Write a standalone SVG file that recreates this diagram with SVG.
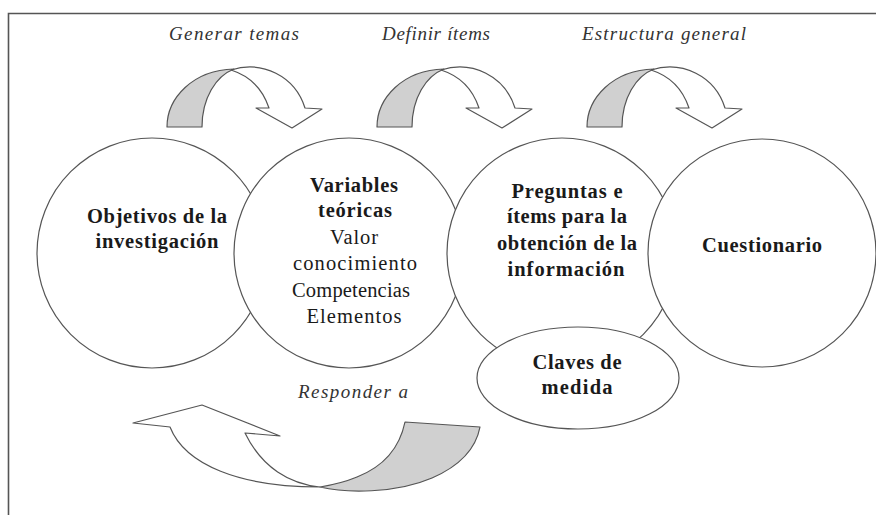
<svg xmlns="http://www.w3.org/2000/svg" width="876" height="515" viewBox="0 0 876 515">
<defs>
<style>
.node{fill:#fff;stroke:#555;stroke-width:1.2}
.b{font-family:"Liberation Serif","DejaVu Serif",serif;font-weight:bold;font-size:20.5px;fill:#1a1a1a;text-anchor:middle}
.r{font-family:"Liberation Serif","DejaVu Serif",serif;font-size:20.5px;fill:#1a1a1a;text-anchor:middle}
.lab{font-family:"Liberation Serif","DejaVu Serif",serif;font-style:italic;font-size:19px;fill:#333;text-anchor:middle}
.w{fill:#fff;stroke:#555;stroke-width:1.2;stroke-linejoin:round}
.g{fill:#d0d0d0;stroke:#555;stroke-width:1.2;stroke-linejoin:round}
</style>
<g id="toparrow">
<path class="w" d="M231,70 C262,60 295,76 305,108 L322,109 L292,128 L256,108 L269,108 C263,90 250,76 231,70 Z"/>
<path class="g" d="M167,127 C167,98 193,70 234,69 C216,76 202,98 202,127 Z"/>
</g>
</defs>
<rect width="876" height="515" fill="#fff"/>
<path d="M8.5,515 V13.5 H876" fill="none" stroke="#555" stroke-width="1.6"/>

<g id="connectors">
<use href="#toparrow"/>
<use href="#toparrow" x="210"/>
<use href="#toparrow" x="420"/>
<g id="return-arrow">
<path class="w" d="M320,487 C290,484 262,468 245,433 L280,436 L202,405 L133,423 L170,427 C185,465 240,487 320,487 Z"/>
<path class="g" d="M320,487 C345,493 395,494 432,478 C462,465 476,448 480,427 L405,422 C400,446 385,466 357,477 C345,482 332,485 320,487 Z"/>
</g>
</g>

<g id="labels">
<text class="lab" x="234" y="40" textLength="130" lengthAdjust="spacing">Generar temas</text>
<text class="lab" x="436" y="40" textLength="108" lengthAdjust="spacing">Definir ítems</text>
<text class="lab" x="664" y="40" textLength="164" lengthAdjust="spacing">Estructura general</text>
<text class="lab" x="353" y="398" textLength="110" lengthAdjust="spacing">Responder a</text>
</g>

<g id="objetivos">
<circle class="node" cx="152" cy="253" r="115"/>
<text class="b" x="157" y="223" textLength="140" lengthAdjust="spacing">Objetivos de la</text>
<text class="b" x="157" y="248" textLength="123" lengthAdjust="spacing">investigación</text>
</g>

<g id="variables">
<circle class="node" cx="349" cy="253" r="115"/>
<text class="b" x="354" y="192" textLength="88" lengthAdjust="spacing">Variables</text>
<text class="b" x="355" y="217" textLength="74" lengthAdjust="spacing">teóricas</text>
<text class="r" x="354" y="244" textLength="48" lengthAdjust="spacing">Valor</text>
<text class="r" x="355" y="270" textLength="124" lengthAdjust="spacing">conocimiento</text>
<text class="r" x="351" y="297" textLength="118" lengthAdjust="spacing">Competencias</text>
<text class="r" x="354" y="323" textLength="95" lengthAdjust="spacing">Elementos</text>
</g>

<g id="preguntas">
<circle class="node" cx="562" cy="253" r="115"/>
<text class="b" x="567" y="198" textLength="111" lengthAdjust="spacing">Preguntas e</text>
<text class="b" x="567" y="223" textLength="120" lengthAdjust="spacing">ítems para la</text>
<text class="b" x="567" y="250" textLength="140" lengthAdjust="spacing">obtención de la</text>
<text class="b" x="566" y="276" textLength="117" lengthAdjust="spacing">información</text>
</g>

<g id="cuestionario">
<circle class="node" cx="762" cy="253" r="114"/>
<text class="b" x="762" y="252" textLength="120" lengthAdjust="spacing">Cuestionario</text>
</g>

<g id="claves">
<ellipse class="node" cx="578" cy="378" rx="101" ry="51"/>
<text class="b" x="577" y="369" textLength="89" lengthAdjust="spacing">Claves de</text>
<text class="b" x="577" y="394" textLength="71" lengthAdjust="spacing">medida</text>
</g>
</svg>
